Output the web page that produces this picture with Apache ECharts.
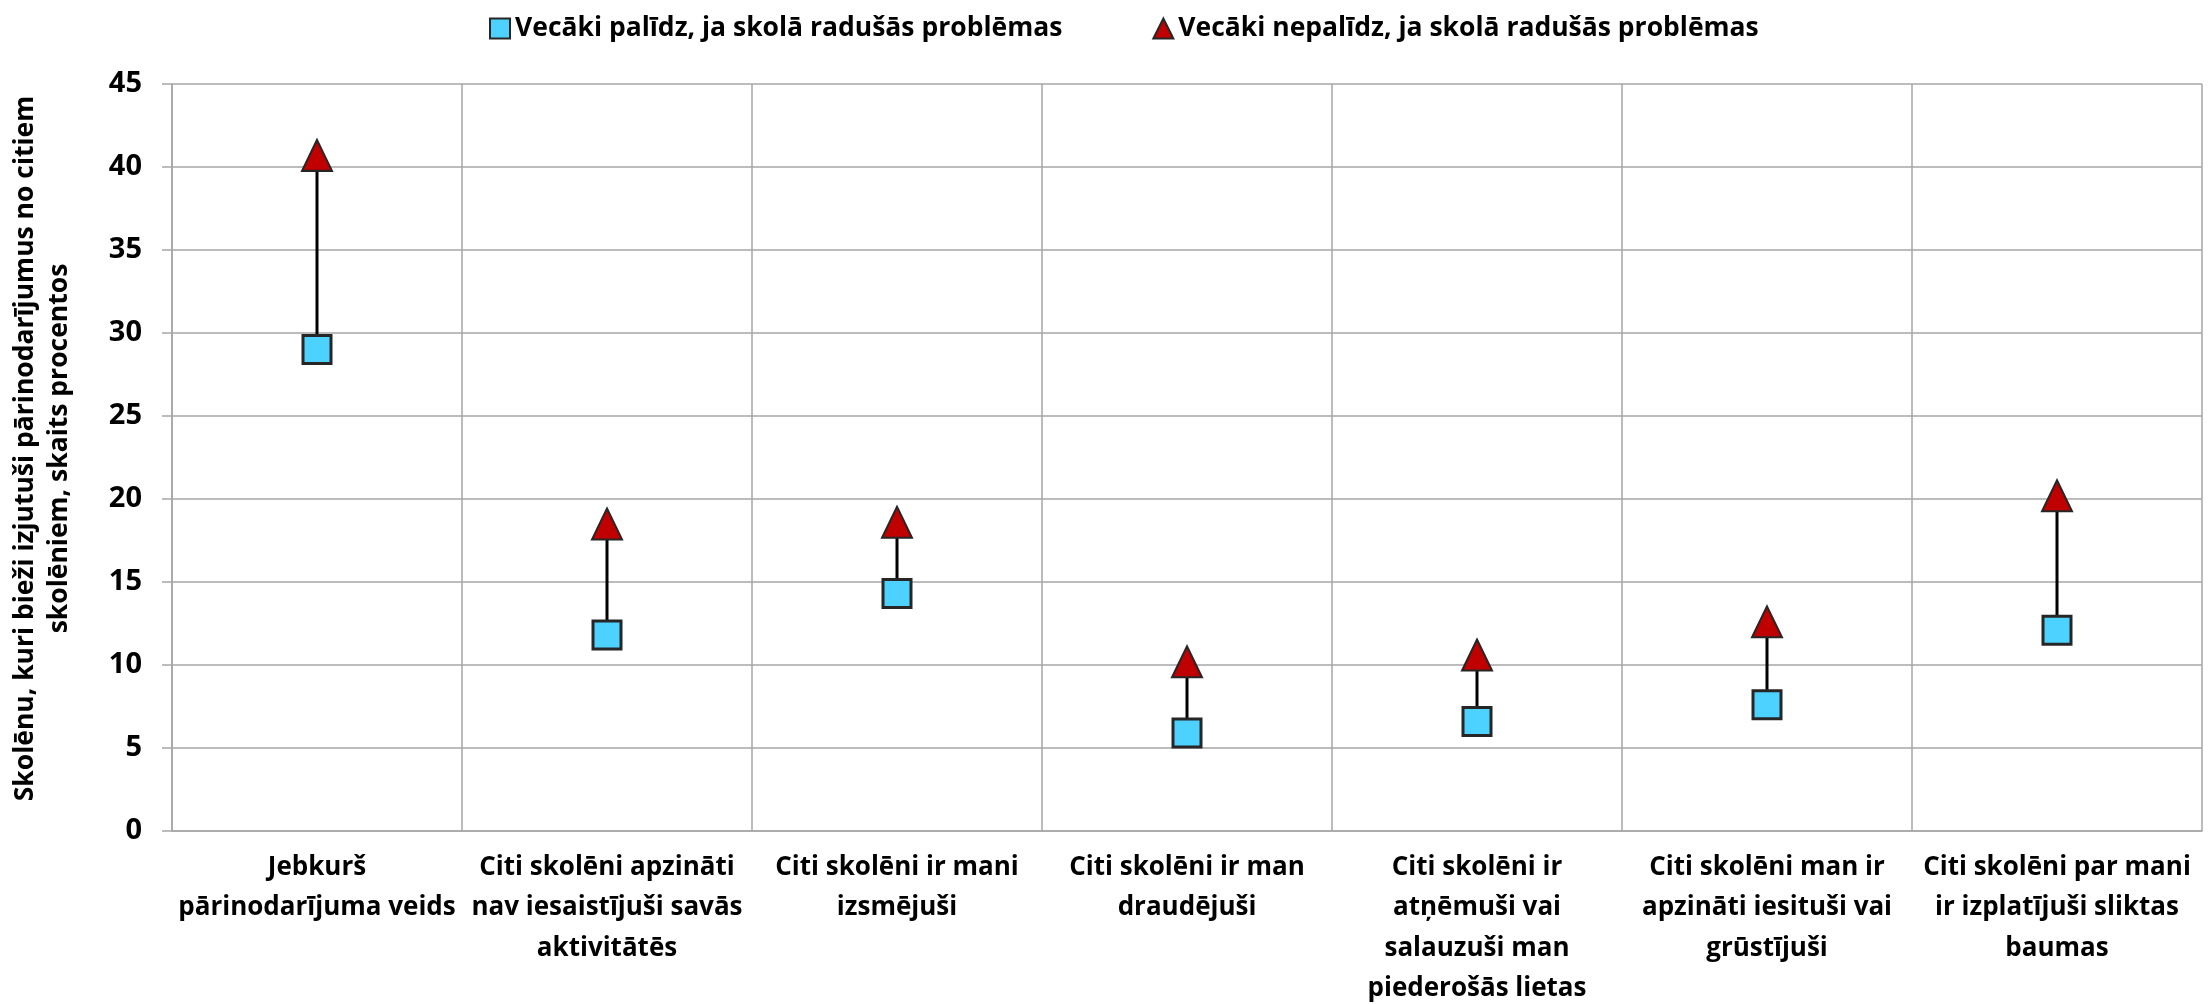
<!DOCTYPE html>
<html>
<head>
<meta charset="utf-8">
<script src="https://cdn.jsdelivr.net/npm/echarts@6/dist/echarts.min.js"></script>
<style>
    html, body { margin: 0; padding: 0; background: #fff; }
    #chart { width: 2212px; height: 1004px; }
</style>
</head>
<body>
<div id="chart"></div>
<script>
// kategorijas (ar rindu pārnesumiem kā oriģinālā)
var categories = [
    'Jebkurš\npārinodarījuma veids',
    'Citi skolēni apzināti\nnav iesaistījuši savās\naktivitātēs',
    'Citi skolēni ir mani\nizsmējuši',
    'Citi skolēni ir man\ndraudējuši',
    'Citi skolēni ir\natņēmuši vai\nsalauzuši man\npiederošās lietas',
    'Citi skolēni man ir\napzināti iesituši vai\ngrūstījuši',
    'Citi skolēni par mani\nir izplatījuši sliktas\nbaumas'
];
var seriesNames = ['Vecāki palīdz, ja skolā radušās problēmas', 'Vecāki nepalīdz, ja skolā radušās problēmas'];
var parentsHelp = [29.0, 11.8, 14.3, 5.9, 6.6, 7.6, 12.1];
var parentsNotHelp = [40.7, 18.5, 18.6, 10.2, 10.6, 12.6, 20.2];
var yTicks = [0, 45, 5]; // min, max, solis

var font = 'Open Sans';
var gridColor = '#a6a6a6';

var myChart = echarts.init(document.getElementById('chart'));

// savienojošā līnija starp abiem punktiem
var connectorData = categories.map(function (c, i) {
    return [i, parentsHelp[i], parentsNotHelp[i]];
});

var option = {
    animation: false,
    backgroundColor: '#fff',
    textStyle: { fontFamily: font },
    legend: {
        data: seriesNames,
        left: 484,
        top: 10,
        itemWidth: 20,
        itemHeight: 20,
        itemGap: 90,
        textStyle: {
            fontFamily: font,
            fontWeight: 'bold',
            fontSize: 26.5,
            color: '#000'
        }
    },
    grid: {
        left: 172,
        right: 10,
        top: 84,
        bottom: 173,
        containLabel: false,
        outerBoundsMode: 'none'
    },
    xAxis: {
        type: 'category',
        data: categories,
        boundaryGap: true,
        axisLine: { show: true, lineStyle: { color: gridColor, width: 1.5 } },
        axisTick: { show: false },
        axisLabel: {
            interval: 0,
            margin: 16,
            fontFamily: font,
            fontWeight: 'bold',
            fontSize: 26,
            lineHeight: 40.5,
            color: '#000'
        },
        splitLine: {
            show: true,
            interval: 0,
            lineStyle: { color: gridColor, width: 1.5 }
        }
    },
    yAxis: {
        type: 'value',
        min: yTicks[0],
        max: yTicks[1],
        interval: yTicks[2],
        name: 'Skolēnu, kuri bieži izjutuši pārinodarījumus no citiem\nskolēniem, skaits procentos',
        nameLocation: 'middle',
        nameRotate: 90,
        nameGap: 96,
        nameTextStyle: {
            fontFamily: font,
            fontWeight: 'bold',
            fontSize: 26.5,
            lineHeight: 34,
            color: '#000',
            padding: [0, 0, 0, 18]
        },
        axisLine: { show: true, lineStyle: { color: gridColor, width: 1.5 } },
        axisTick: { show: true, length: 10, lineStyle: { color: gridColor, width: 1.5 } },
        axisLabel: {
            margin: 30,
            fontFamily: font,
            fontWeight: 'bold',
            fontSize: 29,
            color: '#000'
        },
        splitLine: { show: true, lineStyle: { color: gridColor, width: 1.5 } }
    },
    series: [{
        type: 'custom',
        z: 1,
        silent: true,
        data: connectorData,
        renderItem: function (params, api) {
            var lo = api.coord([api.value(0), api.value(1)]);
            var hi = api.coord([api.value(0), api.value(2)]);
            return {
                type: 'line',
                shape: { x1: lo[0], y1: lo[1], x2: hi[0], y2: hi[1] },
                style: { stroke: '#000', lineWidth: 3 }
            };
        }
    }, {
        name: seriesNames[0],
        type: 'scatter',
        z: 3,
        symbol: 'rect',
        symbolSize: 28,
        data: parentsHelp,
        itemStyle: {
            color: '#4dd2ff',
            borderColor: '#262626',
            borderWidth: 3,
            opacity: 1
        }
    }, {
        name: seriesNames[1],
        type: 'scatter',
        z: 3,
        symbol: 'triangle',
        symbolSize: [30, 31],
        data: parentsNotHelp,
        itemStyle: {
            color: '#c00000',
            borderColor: '#262626',
            borderWidth: 2,
            opacity: 1
        }
    }]
};

myChart.setOption(option);
</script>
</body>
</html>
